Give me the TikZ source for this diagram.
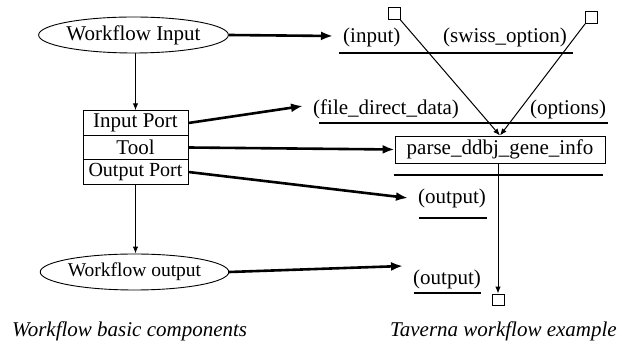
\documentclass[tikz,border=0pt]{standalone}
\usepackage{fontspec}
\setmainfont{Liberation Serif}
\usetikzlibrary{arrows.meta,shapes.geometric}
\begin{document}
\begin{tikzpicture}[x=1pt,y=-1pt,
  txt/.style={font=\fontsize{21}{25}\selectfont, inner sep=0pt},
  smalltxt/.style={font=\fontsize{19.5}{24}\selectfont, inner sep=0pt},
  oval/.style={ellipse, draw, line width=0.9pt, inner sep=0pt, minimum height=36pt},
  portbox/.style={draw, line width=0.9pt, minimum width=105pt, minimum height=24.5pt, inner sep=0pt},
  pin/.style={draw, line width=0.9pt, minimum width=12pt, minimum height=12pt, inner sep=0pt},
  thinarrow/.style={line width=1pt, -{Latex[length=7pt,width=5.5pt]}},
  thickarrow/.style={line width=2.6pt, -{Latex[length=12pt,width=9pt]}},
  uline/.style={line width=1.1pt},
  captext/.style={font=\fontsize{21}{25}\selectfont\itshape, inner sep=0pt}
]
\useasboundingbox (0,0) rectangle (622,344);

% left: workflow basic components
\node[oval, txt, minimum width=167pt] (win) at (133.5,35) {Workflow Input};
\node[portbox, txt] (ip) at (135.5,123) {Input Port};
\node[portbox, txt] (tool) at (135.5,147.5) {Tool};
\node[portbox, font=\fontsize{20}{24}\selectfont, inner sep=0pt] (op) at (135.5,172) {Output Port};
\node[oval, smalltxt, minimum width=155pt] (wout) at (134.5,272) {Workflow output};

\draw[thinarrow] (win.south -| ip.north) -- (ip.north);
\draw[thinarrow] (op.south) -- (wout.north -| op.south);

% right: taverna example
\node[txt, anchor=base west] (inlab) at (343,43) {(input)};
\node[txt, anchor=base west] (swiss) at (443,43) {(swiss\_option)};
\coordinate (ul1a) at (339,53);
\coordinate (ul1b) at (573,53);
\draw[uline] (ul1a) -- (ul1b);

\node[txt, anchor=base west] (fdd) at (313,115) {(file\_direct\_data)};
\node[txt, anchor=base west] (opts) at (530,115) {(options)};
\coordinate (ul2a) at (319,123);
\coordinate (ul2b) at (608,123);
\draw[uline] (ul2a) -- (ul2b);

\node[draw, line width=0.9pt, txt, minimum width=210pt, minimum height=27pt] (parse) at (500,149.5) {parse\_ddbj\_gene\_info};
\coordinate (ul3a) at (394,175);
\coordinate (ul3b) at (603,175);
\draw[uline] (ul3a) -- (ul3b);

\node[txt, anchor=base west] (out1) at (418,204) {(output)};
\coordinate (ul4a) at (419,218);
\coordinate (ul4b) at (487,218);
\draw[uline] (ul4a) -- (ul4b);

\node[txt, anchor=base west] (out2) at (413,285) {(output)};
\coordinate (ul5a) at (414,293);
\coordinate (ul5b) at (481,293);
\draw[uline] (ul5a) -- (ul5b);

\node[pin] (sq1) at (394,13.5) {};
\node[pin] (sq2) at (591.5,17.5) {};
\node[pin, minimum height=11pt] (sq3) at (498,299.5) {};

\draw[thinarrow] (sq1.south east) -- (parse.north);
\draw[thinarrow] (sq2.south west) -- (parse.north);
\draw[thinarrow] (parse.south -| sq3.north) -- (sq3.north);

% thick mapping arrows
\coordinate (t1) at (333,36);
\coordinate (t2) at (303,106);
\coordinate (t3) at (408,198);
\coordinate (t4) at (403,266);
\draw[thickarrow] (win.east) -- (t1);
\draw[thickarrow] (ip.east) -- (t2);
\draw[thickarrow] (tool.east) -- (parse.west);
\draw[thickarrow] (op.east) -- (t3);
\draw[thickarrow] (wout.east) -- (t4);

% captions
\node[captext, anchor=base west] (cap1) at (12,337) {Workflow basic components};
\node[captext, anchor=base east] (cap2) at (617,337) {Taverna workflow example};
\end{tikzpicture}
\end{document}
